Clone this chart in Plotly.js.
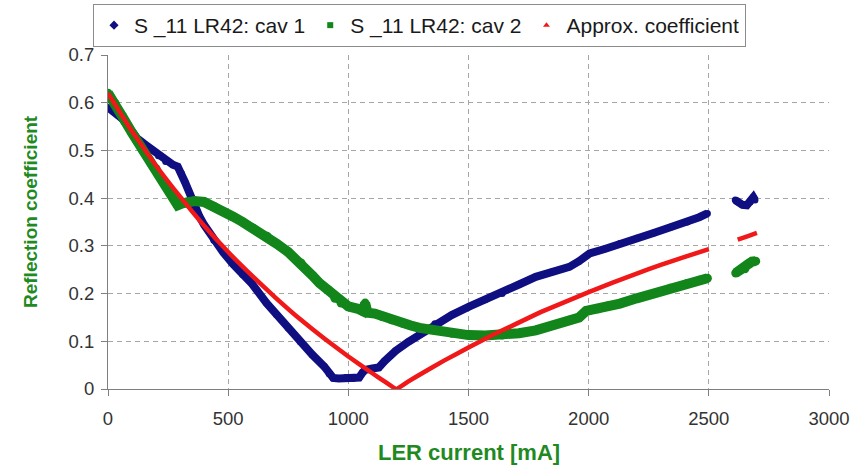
<!DOCTYPE html>
<html>
<head>
<meta charset="utf-8">
<script src="https://cdn.plot.ly/plotly-3.0.1.min.js"></script>
<style>
  html, body { margin: 0; padding: 0; background: #ffffff; }
  #chart { width: 857px; height: 468px; }
</style>
</head>
<body>
<div id="chart"></div>
<script>
// Reflection coefficient versus LER beam current

// S_11 LR42, cavity 1 (main sweep, then a short run near 2.65 A)
const cav1Current = [0, 30, 60, 90, 120, 150, 180, 210, 240, 270, 290, 305, 320, 340, 360, 380, 400, 440, 480, 520, 560, 600, 660, 700, 750, 800, 850, 900, 920, 937, 960, 990, 1020, 1045, 1060, 1070, 1100, 1127, 1150, 1197, 1250, 1296, 1360, 1430, 1500, 1570, 1640, 1710, 1780, 1850, 1920, 1960, 2004, 2070, 2130, 2200, 2270, 2340, 2410, 2460, 2494,
  null, 2610, 2622, 2640, 2658, 2672, 2685, 2692];
const cav1Refl = [0.590, 0.580, 0.566, 0.546, 0.526, 0.514, 0.503, 0.489, 0.477, 0.470, 0.466, 0.452, 0.434, 0.410, 0.383, 0.362, 0.344, 0.312, 0.286, 0.262, 0.240, 0.220, 0.180, 0.156, 0.128, 0.099, 0.072, 0.047, 0.032, 0.023, 0.022, 0.024, 0.022, 0.024, 0.035, 0.040, 0.043, 0.045, 0.058, 0.080, 0.099, 0.114, 0.137, 0.155, 0.172, 0.187, 0.200, 0.219, 0.235, 0.246, 0.256, 0.268, 0.284, 0.294, 0.305, 0.316, 0.327, 0.339, 0.350, 0.360, 0.368,
  null, 0.396, 0.392, 0.386, 0.385, 0.392, 0.402, 0.396];

// S_11 LR42, cavity 2
const cav2Current = [0, 30, 60, 100, 140, 175, 200, 215, 245, 270, 290, 310, 330, 360, 400, 440, 480, 521, 560, 600, 662, 700, 750, 803, 850, 880, 915, 944, 970, 1000, 1040, 1060, 1070, 1080, 1110, 1141, 1180, 1225, 1260, 1296, 1360, 1430, 1500, 1570, 1640, 1710, 1780, 1850, 1920, 1960, 1990, 2004, 2040, 2080, 2130, 2200, 2270, 2340, 2410, 2460, 2494,
  null, 2612, 2630, 2650, 2665, 2680, 2695];
const cav2Refl = [0.620, 0.598, 0.571, 0.537, 0.505, 0.478, 0.462, 0.447, 0.422, 0.405, 0.385, 0.389, 0.392, 0.394, 0.392, 0.383, 0.372, 0.361, 0.350, 0.338, 0.320, 0.305, 0.287, 0.264, 0.238, 0.222, 0.208, 0.190, 0.180, 0.173, 0.168, 0.163, 0.180, 0.160, 0.158, 0.152, 0.145, 0.138, 0.133, 0.128, 0.123, 0.117, 0.113, 0.112, 0.113, 0.117, 0.123, 0.133, 0.144, 0.150, 0.164, 0.165, 0.168, 0.174, 0.179, 0.190, 0.200, 0.211, 0.221, 0.228, 0.232,
  null, 0.243, 0.248, 0.252, 0.262, 0.267, 0.268];

// Approximated coefficient
const approxCurrent = [0, 100, 200, 300, 400, 500, 600, 700, 800, 900, 1000, 1100, 1150, 1200, 1250, 1300, 1400, 1500, 1600, 1700, 1800, 1900, 2000, 2100, 2200, 2300, 2400, 2500,
  null, 2620, 2660, 2700];
const approxRefl = [0.620, 0.540, 0.468, 0.403, 0.342, 0.287, 0.237, 0.190, 0.146, 0.106, 0.068, 0.033, 0.016, 0.000, 0.016, 0.031, 0.060, 0.087, 0.113, 0.137, 0.161, 0.182, 0.203, 0.223, 0.242, 0.260, 0.277, 0.293,
  null, 0.313, 0.320, 0.327];

const seriesNames = ['S _11 LR42: cav 1', 'S _11 LR42: cav 2', 'Approx. coefficient'];
const xTicks = [0, 500, 1000, 1500, 2000, 2500, 3000];
const yTicks = [0, 0.1, 0.2, 0.3, 0.4, 0.5, 0.6, 0.7];
const xTitle = 'LER current [mA]';
const yTitle = 'Reflection coefficient';

const NAVY = '#0f0f82';
const GREEN = '#12861a';
const RED = '#f01818';
const TITLE_GREEN = '#1f8a1f';
const FONT = 'Liberation Sans, Arial, sans-serif';

// thick measured curves: round blobs at every sample soften the joins
function thickCurve(x, y, color, width) {
  return {
    x: x, y: y, type: 'scatter', mode: 'lines+markers', showlegend: false,
    line: { color: color, width: width },
    marker: { color: color, size: width - 1, symbol: 'circle', line: { width: 0 } },
    connectgaps: false, hoverinfo: 'x+y'
  };
}

const traces = [
  // legend entries (symbol keys)
  { x: [null], y: [null], type: 'scatter', mode: 'markers', name: seriesNames[0],
    marker: { symbol: 'diamond', size: 7, color: NAVY } },
  { x: [null], y: [null], type: 'scatter', mode: 'markers', name: seriesNames[1],
    marker: { symbol: 'square', size: 6, color: GREEN } },
  { x: [null], y: [null], type: 'scatter', mode: 'markers', name: seriesNames[2],
    marker: { symbol: 'triangle-up', size: 6, color: RED } },
  // measured and approximated curves
  thickCurve(cav1Current, cav1Refl, NAVY, 8),
  thickCurve(cav2Current, cav2Refl, GREEN, 10),
  { x: approxCurrent, y: approxRefl, type: 'scatter', mode: 'lines', showlegend: false,
    line: { color: RED, width: 4.5, shape: 'spline', smoothing: 0.3 }, connectgaps: false, hoverinfo: 'x+y' }
];

const axisCommon = {
  tickmode: 'array',
  showgrid: true,
  gridcolor: '#a6a6a6',
  gridwidth: 1,
  griddash: '5px,4px',
  zeroline: false,
  showline: true,
  linecolor: '#7f7f7f',
  linewidth: 1,
  ticks: 'outside',
  ticklen: 6,
  tickcolor: '#7f7f7f',
  tickfont: { family: FONT, size: 18.5, color: '#333333' }
};

const layout = {
  width: 857,
  height: 468,
  margin: { l: 108, r: 28, t: 55, b: 79, pad: 0 },
  paper_bgcolor: '#ffffff',
  plot_bgcolor: '#ffffff',
  font: { family: FONT, color: '#333333', size: 17 },
  showlegend: true,
  legend: {
    orientation: 'h',
    xref: 'container', yref: 'container',
    x: 93 / 857, xanchor: 'left',
    y: 1 - 4 / 468, yanchor: 'top',
    bgcolor: '#ffffff',
    bordercolor: '#8c8c8c',
    borderwidth: 1,
    font: { family: FONT, size: 21, color: '#1a1a1a' },
    itemwidth: 30,
    tracegroupgap: 0
  },
  xaxis: Object.assign({}, axisCommon, {
    range: [0, 3000],
    tickvals: xTicks,
    ticktext: xTicks.map(String),
    ticklabelstandoff: 7
  }),
  yaxis: Object.assign({}, axisCommon, {
    range: [0, 0.7],
    tickvals: yTicks,
    ticktext: yTicks.map(v => String(v)),
    ticklabelstandoff: 3
  }),
  annotations: [
    { text: '<b>' + xTitle + '</b>', xref: 'paper', yref: 'paper',
      x: 0.5, y: (389 - 452) / 334, xanchor: 'center', yanchor: 'middle',
      showarrow: false, font: { family: FONT, size: 22, color: TITLE_GREEN } },
    { text: '<b>' + yTitle + '</b>', xref: 'paper', yref: 'paper',
      x: (30 - 108) / 721, y: (389 - 212) / 334, xanchor: 'center', yanchor: 'middle',
      textangle: -90, showarrow: false, font: { family: FONT, size: 19, color: TITLE_GREEN } }
  ]
};

Plotly.newPlot('chart', traces, layout, { staticPlot: true, displayModeBar: false });
</script>
</body>
</html>
